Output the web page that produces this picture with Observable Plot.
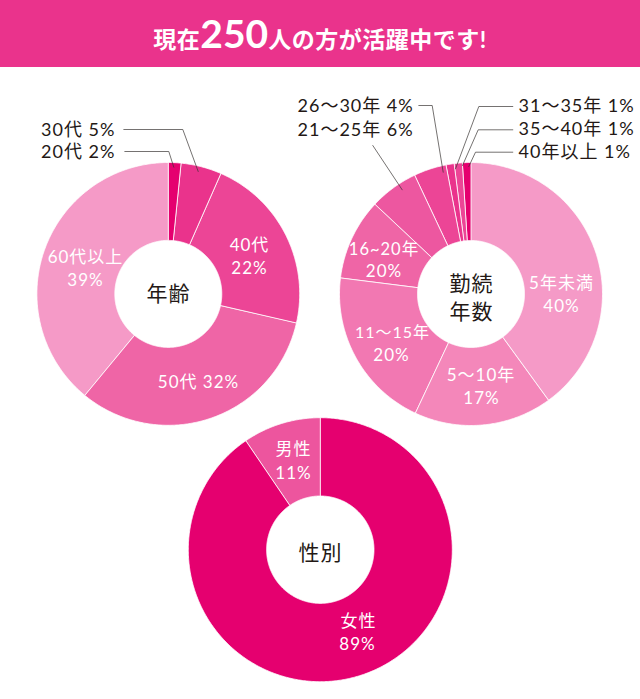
<!DOCTYPE html>
<html lang="ja">
<head>
<meta charset="utf-8">
<script src="https://cdn.jsdelivr.net/npm/d3@7"></script>
<script src="https://cdn.jsdelivr.net/npm/@observablehq/plot@0.6"></script>
<style>
  html, body { margin: 0; padding: 0; background: #fff; }
  #banner { height: 67px; background: #ea338c; color: #fff; text-align: center; font-family: "Lato", "Noto Sans CJK JP", sans-serif; font-weight: 700; font-size: 23px; line-height: 66px; white-space: nowrap; letter-spacing: 0.5px; overflow: hidden; }
  #banner .num { font-size: 39px; font-weight: 700; letter-spacing: 0; }
  #chart svg { display: block; }
</style>
</head>
<body>
<div id="banner">現在<span class="num">250</span>人の方が活躍中です!</div>
<div id="chart"></div>
<script>
// Data, clockwise from 12 o'clock; slice sizes
const ageNames = ["20代", "30代", "40代", "50代", "60代以上"];
const ageValues = [1.6, 5, 22, 32.4, 39];
const ageColors = ["#e5006f", "#ea338c", "#ec4596", "#ef65a6", "#f59ac7"];

const tenureNames = ["5年未満", "5〜10年", "11〜15年", "16〜20年", "21〜25年", "26〜30年", "31〜35年", "35〜40年", "40年以上"];
const tenureValues = [40, 17, 20, 10, 6, 4, 1, 1, 1];
const tenureColors = ["#f59ac7", "#f487ba", "#f278b2", "#ef65a6", "#ed57a0", "#ec4596", "#ea338c", "#ec4596", "#e5006f"];

const genderNames = ["女性", "男性"];
const genderValues = [90.5, 9.5];
const genderColors = ["#e5006f", "#ed559e"];

// Layout
const rings = [
  {id: "age", names: ageNames, values: ageValues, colors: ageColors, cx: 167.8, cy: 293.4, r: 131.4, r0: 53.5},
  {id: "tenure", names: tenureNames, values: tenureValues, colors: tenureColors, cx: 470.5, cy: 293.5, r: 131.5, r0: 53.5},
  {id: "gender", names: genderNames, values: genderValues, colors: genderColors, cx: 319.8, cy: 549.2, r: 132, r0: 53.7}
];

const whiteLabels = [
  ["40代", 249, 245, 17], ["22%", 249, 268, 17],
  ["60代以上", 85, 257, 17], ["39%", 85, 280, 17],
  ["50代 32%", 198, 382, 17],
  ["5年未満", 561, 283, 17], ["40%", 561, 306, 17],
  ["5〜10年", 480.5, 375, 17], ["17%", 481, 398, 17],
  ["11〜15年", 392, 332, 16], ["20%", 391, 355, 17],
  ["16~20年", 383.5, 249, 16.5], ["20%", 383.5, 271, 17],
  ["男性", 293, 449, 17], ["11%", 293, 473, 17],
  ["女性", 358, 621, 17], ["89%", 357, 644, 17]
].map(([t, x, y, s]) => ({t, x, y, s}));

const darkLabels = [
  ["30代 5%", 40.5, 130], ["20代 2%", 40.5, 152],
  ["26〜30年 4%", 297, 106], ["21〜25年 6%", 297, 130],
  ["31〜35年 1%", 518, 106], ["35〜40年 1%", 518, 129], ["40年以上 1%", 518, 152]
].map(([t, x, y]) => ({t, x, y}));

const centerLabels = [
  ["年齢", 168, 293.5], ["勤続", 471, 284], ["年数", 471, 312], ["性別", 320, 553]
].map(([t, x, y]) => ({t, x, y}));

const leaders = [
  [[123.3, 129], [182.3, 129], [197.7, 171]],
  [[124.3, 151], [168.3, 151], [173.3, 166.7]],
  [[418.3, 105], [431.7, 105], [442.7, 171.7]],
  [[372.3, 145], [401.7, 189.3]],
  [[512.3, 106], [478.3, 106], [455, 168.3]],
  [[512.3, 129.3], [477.7, 129.3], [462, 165]],
  [[512.3, 151.7], [475, 151.7], [468.3, 166]]
].flatMap((pts, k) => pts.map(([x, y]) => ({k, x, y})));

// Slice outlines from the values
const slices = rings.flatMap(ring => {
  const total = d3.sum(ring.values);
  let acc = 0;
  return ring.values.flatMap((v, i) => {
    const a0 = acc / total * 2 * Math.PI;
    acc += v;
    const a1 = acc / total * 2 * Math.PI;
    const n = Math.max(2, Math.ceil((a1 - a0) / 0.01));
    const key = ring.id + ":" + ring.names[i];
    const pts = [];
    for (let j = 0; j <= n; j++) {
      const a = a0 + (a1 - a0) * j / n;
      pts.push({key, x: ring.cx + ring.r * Math.sin(a), y: ring.cy - ring.r * Math.cos(a)});
    }
    for (let j = n; j >= 0; j--) {
      const a = a0 + (a1 - a0) * j / n;
      pts.push({key, x: ring.cx + ring.r0 * Math.sin(a), y: ring.cy - ring.r0 * Math.cos(a)});
    }
    return pts;
  });
});

const colorDomain = rings.flatMap(r => r.names.map(n => r.id + ":" + n));
const colorRange = rings.flatMap(r => r.colors);

const chart = Plot.plot({
  width: 640,
  height: 632,
  margin: 0,
  x: {domain: [0, 640], range: [0, 640], axis: null},
  y: {domain: [67, 699], range: [0, 632], axis: null},
  color: {type: "ordinal", domain: colorDomain, range: colorRange},
  style: {fontFamily: '"Lato", "Noto Sans CJK JP", sans-serif', letterSpacing: "1px", background: "#fff"},
  marks: [
    Plot.line(slices, {x: "x", y: "y", z: "key", fill: "key", stroke: "#fff", strokeWidth: 0.8, curve: "linear-closed"}),
    Plot.line(leaders, {x: "x", y: "y", z: "k", stroke: "#3a3533", strokeWidth: 0.7, curve: "linear"}),
    Plot.text(whiteLabels, {x: "x", y: "y", text: "t", fill: "#fff", fontSize: "s", textAnchor: "middle", lineAnchor: "middle"}),
    Plot.text(darkLabels, {x: "x", y: "y", text: "t", fill: "#231815", fontSize: 18, textAnchor: "start", lineAnchor: "middle"}),
    Plot.text(centerLabels, {x: "x", y: "y", text: "t", fill: "#231815", fontSize: 21, fontWeight: 400, textAnchor: "middle", lineAnchor: "middle"})
  ]
});
document.getElementById("chart").appendChild(chart);
</script>
</body>
</html>
